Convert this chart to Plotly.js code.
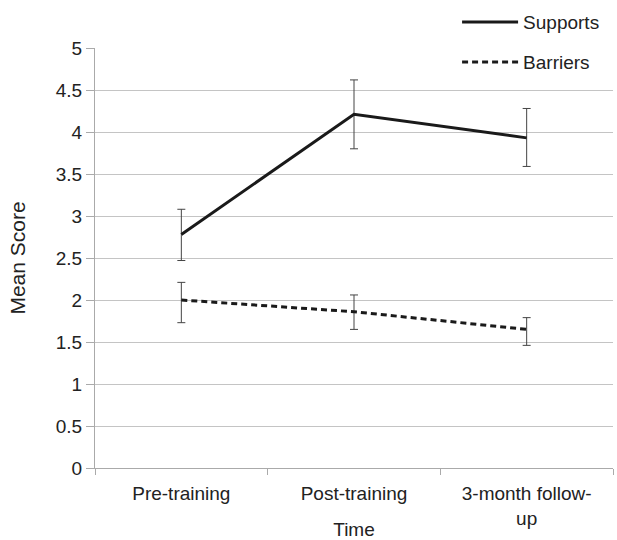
<!DOCTYPE html>
<html>
<head>
<meta charset="utf-8">
<script src="https://cdn.plot.ly/plotly-3.0.1.min.js"></script>
<style>html,body{margin:0;padding:0;background:#fff;}#chart{width:617px;height:540px;}</style>
</head>
<body>
<div id="chart"></div>
<script>
var categories = ["Pre-training", "Post-training", "3-month follow-<br>up"];
var supports = [2.78, 4.21, 3.93];
var supportsErrPlus = [0.30, 0.41, 0.35];
var supportsErrMinus = [0.31, 0.41, 0.34];
var barriers = [2.00, 1.86, 1.65];
var barriersErrPlus = [0.21, 0.20, 0.14];
var barriersErrMinus = [0.27, 0.21, 0.19];
var yTicks = [0, 0.5, 1, 1.5, 2, 2.5, 3, 3.5, 4, 4.5, 5];
var yTickLabels = ["0", "0.5", "1", "1.5", "2", "2.5", "3", "3.5", "4", "4.5", "5"];

var font = "Liberation Sans, Arial, Helvetica, sans-serif";
var txt = "#222";

var traces = [
  {
    x: categories, y: supports, name: "Supports", type: "scatter", mode: "lines",
    line: {color: "#1a1a1a", width: 3},
    error_y: {type: "data", symmetric: false, array: supportsErrPlus, arrayminus: supportsErrMinus,
      color: "#444", thickness: 1, width: 4},
    legend: "legend"
  },
  {
    x: categories, y: barriers, name: "Barriers", type: "scatter", mode: "lines",
    line: {color: "#1a1a1a", width: 3, dash: "6px,4px"},
    error_y: {type: "data", symmetric: false, array: barriersErrPlus, arrayminus: barriersErrMinus,
      color: "#444", thickness: 1, width: 4},
    legend: "legend2"
  }
];

var layout = {
  width: 617, height: 540,
  margin: {l: 95, r: 4, t: 47, b: 72},
  paper_bgcolor: "#fff", plot_bgcolor: "#fff",
  font: {family: font, size: 19, color: txt},
  showlegend: true,
  xaxis: {
    type: "category",
    range: [-0.5, 2.5],
    tickson: "boundaries",
    ticks: "outside", ticklen: 6, tickcolor: "#aaa", tickwidth: 1,
    ticklabelstandoff: 8,
    showline: true, linecolor: "#aaa", linewidth: 1,
    showgrid: false, zeroline: false,
    tickfont: {family: font, size: 19, color: txt},
    title: {text: "Time", font: {family: font, size: 19, color: txt}, standoff: 10},
    fixedrange: true
  },
  yaxis: {
    range: [0, 5],
    tickvals: yTicks, ticktext: yTickLabels,
    ticks: "outside", ticklen: 8, tickcolor: "#aaa", tickwidth: 1,
    showline: true, linecolor: "#aaa", linewidth: 1,
    showgrid: true, gridcolor: "#c4c4c4", gridwidth: 1,
    zeroline: false,
    tickfont: {family: font, size: 19, color: txt},
    title: {text: "Mean Score", font: {family: font, size: 21, color: txt}, standoff: 24},
    fixedrange: true
  },
  legend: {
    x: 0.699, y: 1.104, xanchor: "left", yanchor: "top",
    bgcolor: "rgba(0,0,0,0)", borderwidth: 0,
    font: {family: font, size: 19, color: txt},
    itemwidth: 56
  },
  legend2: {
    x: 0.699, y: 1.009, xanchor: "left", yanchor: "top",
    bgcolor: "rgba(0,0,0,0)", borderwidth: 0,
    font: {family: font, size: 19, color: txt},
    itemwidth: 56
  }
};

Plotly.newPlot("chart", traces, layout, {displayModeBar: false, staticPlot: true});
</script>
</body>
</html>
